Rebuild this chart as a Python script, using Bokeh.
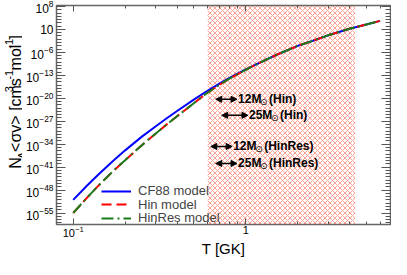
import math
from bokeh.plotting import figure
from bokeh.layouts import row
from bokeh.models import (ColumnDataSource, LogAxis, FixedTicker, BoxAnnotation,
                          Arrow, NormalHead, Range1d, Legend, LegendItem)
from bokeh.core.properties import value
from bokeh.embed import file_html
from bokeh.resources import INLINE

# ---------------- data ----------------
temperature = [0.1, 0.12, 0.14, 0.17, 0.2, 0.25, 0.3, 0.35, 0.4, 0.5, 0.6,
               0.7, 0.8, 1.0, 1.2, 1.5, 2.0, 2.5, 3.0, 4.0, 5.0, 6.0]
rate_cf88 = [1.0e-51, 2.0e-47, 5.6e-44, 7.9e-40, 1.3e-36, 2.0e-32, 2.5e-29,
             1.0e-26, 1.3e-24, 4.0e-21, 2.0e-18, 2.5e-16, 1.3e-14, 6.3e-12,
             6.3e-10, 1.6e-7, 1.0e-4, 5.0e-3, 0.16, 16.0, 316.0, 4000.0]
rate_hin = [1.0e-55, 4.0e-51, 2.2e-47, 5.6e-43, 1.3e-39, 5.0e-35, 1.6e-31,
            1.3e-28, 3.2e-26, 3.2e-22, 5.0e-19, 1.1e-16, 7.9e-15, 5.0e-12,
            6.3e-10, 1.6e-7, 1.0e-4, 5.0e-3, 0.16, 16.0, 316.0, 4000.0]
rate_hinres = [1.1e-55, 4.2e-51, 2.3e-47, 5.8e-43, 1.35e-39, 5.1e-35, 1.6e-31,
               1.3e-28, 3.2e-26, 3.2e-22, 5.0e-19, 1.1e-16, 7.9e-15, 5.0e-12,
               6.3e-10, 1.6e-7, 1.0e-4, 5.0e-3, 0.16, 16.0, 316.0, 4000.0]

window_t = [0.6, 4.3]

arrow_mass = ["12M", "25M", "12M", "25M"]
arrow_model = ["(Hin)", "(Hin)", "(HinRes)", "(HinRes)"]
arrow_t_low = [0.67, 0.725, 0.627, 0.67]
arrow_t_high = [0.89, 1.03, 0.834, 0.89]
arrow_rate = [5.0e-21, 6.3e-26, 2.0e-35, 1.3e-40]

y_major_ticks = [1e8, 1e1, 1e-6, 1e-13, 1e-20, 1e-27, 1e-34, 1e-41, 1e-48, 1e-55]
y_minor_ticks = [10.0 ** k for k in range(-58, 9)]
x_major_ticks = [0.1, 1.0]
x_minor_ticks = [0.2, 0.3, 0.4, 0.5, 0.6, 0.7, 0.8, 0.9, 2.0, 3.0, 4.0, 5.0, 6.0, 7.0]

legend_labels = ["CF88 model", "Hin model", "HinRes model"]
x_title = "T [GK]"
y_title_parts = ["N", "A", "<\u03c3v> [cm", "3", "s", "-1", "mol", "-1", "]"]
y_title_role = ["main", "sub", "main", "sup", "main", "sup", "main", "sup", "main"]

FONT = "Liberation Sans"
TICK_COLOR = "#555555"
YT_W = 22
P_W = 391 - YT_W

p = figure(width=P_W, height=259, x_axis_type="log", y_axis_type="log",
           x_range=Range1d(0.08, 6.9), y_range=Range1d(10 ** -58.5, 10 ** 8.3),
           output_backend="svg", toolbar_location=None,
           min_border_left=31, min_border_right=1, min_border_top=5,
           min_border_bottom=33)
p.xgrid.visible = False
p.ygrid.visible = False
p.outline_line_color = "#666666"
p.outline_line_width = 1.5
p.background_fill_color = "white"
p.border_fill_color = "white"


def style_axis(ax, major_in, minor_in, size="12px"):
    ax.major_tick_in = major_in
    ax.major_tick_out = 0
    ax.minor_tick_in = minor_in
    ax.minor_tick_out = 0
    ax.major_tick_line_color = TICK_COLOR
    ax.minor_tick_line_color = TICK_COLOR
    ax.axis_line_color = None
    ax.major_label_text_font = FONT
    ax.major_label_text_font_size = size
    ax.major_label_text_color = "black"


xb = p.xaxis[0]
xb.ticker = FixedTicker(ticks=x_major_ticks, minor_ticks=x_minor_ticks)
xb.major_label_overrides = {1.0: "1"}
xb.major_label_standoff = 1
xb.axis_label = x_title
xb.axis_label_text_font = FONT
xb.axis_label_text_font_size = "15px"
xb.axis_label_text_font_style = "normal"
xb.axis_label_text_color = "black"
xb.axis_label_standoff = 0
style_axis(xb, 6, 3, "11px")

yl = p.yaxis[0]
yl.ticker = FixedTicker(ticks=y_major_ticks, minor_ticks=y_minor_ticks)
yl.major_label_overrides = {10.0: "10"}
yl.major_label_standoff = 3
style_axis(yl, 9, 5)

xt = LogAxis(ticker=FixedTicker(ticks=x_major_ticks, minor_ticks=x_minor_ticks))
style_axis(xt, 6, 3)
xt.major_label_text_font_size = "1px"
xt.major_label_text_alpha = 0
xt.major_label_standoff = 0
p.add_layout(xt, "above")

yr = LogAxis(ticker=FixedTicker(ticks=y_major_ticks, minor_ticks=y_minor_ticks))
style_axis(yr, 9, 5)
yr.major_label_text_font_size = "1px"
yr.major_label_text_alpha = 0
yr.major_label_standoff = 0
p.add_layout(yr, "right")

# hatched temperature window
box = BoxAnnotation(left=window_t[0], right=window_t[1], fill_color=None,
                    line_color=None, hatch_pattern="diagonal_cross",
                    hatch_color="#ff3010", hatch_alpha=0.45, hatch_scale=5,
                    hatch_weight=1, level="underlay")
p.add_layout(box)

src = ColumnDataSource(dict(t=temperature, cf=rate_cf88, hin=rate_hin, hr=rate_hinres))
r_cf = p.line("t", "cf", source=src, line_color="#0000ff", line_width=2)
r_hin = p.line("t", "hin", source=src, line_color="#ff0000", line_width=2, line_dash="10 5")
r_hr = p.line("t", "hr", source=src, line_color="#1a7a1a", line_width=2,
              line_dash="12 4 2 4")

# one legend per row to control the row pitch
for lab, rend, ypix in zip(legend_labels, [r_cf, r_hin, r_hr], [26, 12.5, -1]):
    lg = Legend(items=[LegendItem(label=lab, renderers=[rend])], location=(45, ypix))
    lg.label_text_font = FONT
    lg.label_text_font_size = "13px"
    lg.glyph_width = 30
    lg.glyph_height = 12
    lg.label_height = 12
    lg.label_standoff = 7
    lg.spacing = 0
    lg.padding = 0
    lg.margin = 0
    lg.border_line_color = None
    lg.background_fill_alpha = 0
    p.add_layout(lg)

# arrows + labels
asrc = ColumnDataSource(dict(lo=arrow_t_low, hi=arrow_t_high, y=arrow_rate,
                             mass=arrow_mass, model=arrow_model,
                             sun=["\u2299"] * len(arrow_mass)))
p.add_layout(Arrow(x_start="lo", y_start="y", x_end="hi", y_end="y", source=asrc,
                   line_width=1.5, line_color="black",
                   start=NormalHead(size=6, fill_color="black", line_color="black"),
                   end=NormalHead(size=6, fill_color="black", line_color="black")))
p.text("hi", "y", text="mass", source=asrc, x_offset=1, y_offset=0,
       text_font=value(FONT), text_font_style="bold", text_font_size="12px",
       text_baseline="alphabetic", text_color="black")
p.text("hi", "y", text="sun", source=asrc, x_offset=23, y_offset=3,
       text_font=value("DejaVu Sans"), text_font_size="9px",
       text_baseline="alphabetic", text_color="black")
p.text("hi", "y", text="model", source=asrc, x_offset=32, y_offset=0,
       text_font=value(FONT), text_font_style="bold", text_font_size="12px",
       text_baseline="alphabetic", text_color="black")

# ---- y-axis title panel (rotated text built from pieces) ----
yt = figure(width=YT_W, height=259, x_range=Range1d(0, YT_W), y_range=Range1d(0, 259),
            output_backend="svg", toolbar_location=None, min_border=0)
yt.axis.visible = False
yt.xgrid.visible = False
yt.ygrid.visible = False
yt.outline_line_color = None
yt.background_fill_color = "white"
yt.border_fill_color = "white"

em = {"N": 0.722, "A": 0.667, "<\u03c3v> [cm": 4.4, "3": 0.556, "s": 0.5,
      "-1": 0.889, "mol": 1.611, "]": 0.278}
role_size = {"main": 16, "sub": 11, "sup": 11}
role_shift = {"main": 0, "sub": 6, "sup": -7}
xs, ys, sizes = [], [], []
pos = 66.0
for part, role in zip(y_title_parts, y_title_role):
    xs.append(15 + role_shift[role])
    ys.append(pos)
    sizes.append(f"{role_size[role]}px")
    pos += em[part] * role_size[role] + (1 if role != "main" else 0)
ysrc = ColumnDataSource(dict(x=xs, y=ys, t=y_title_parts, s=sizes))
yt.text("x", "y", text="t", source=ysrc, angle=math.pi / 2, text_font=value(FONT),
        text_font_size="s", text_align="left", text_baseline="alphabetic",
        text_color="black")

layout = row(yt, p)
open("out.html", "w").write(file_html(layout, INLINE))
